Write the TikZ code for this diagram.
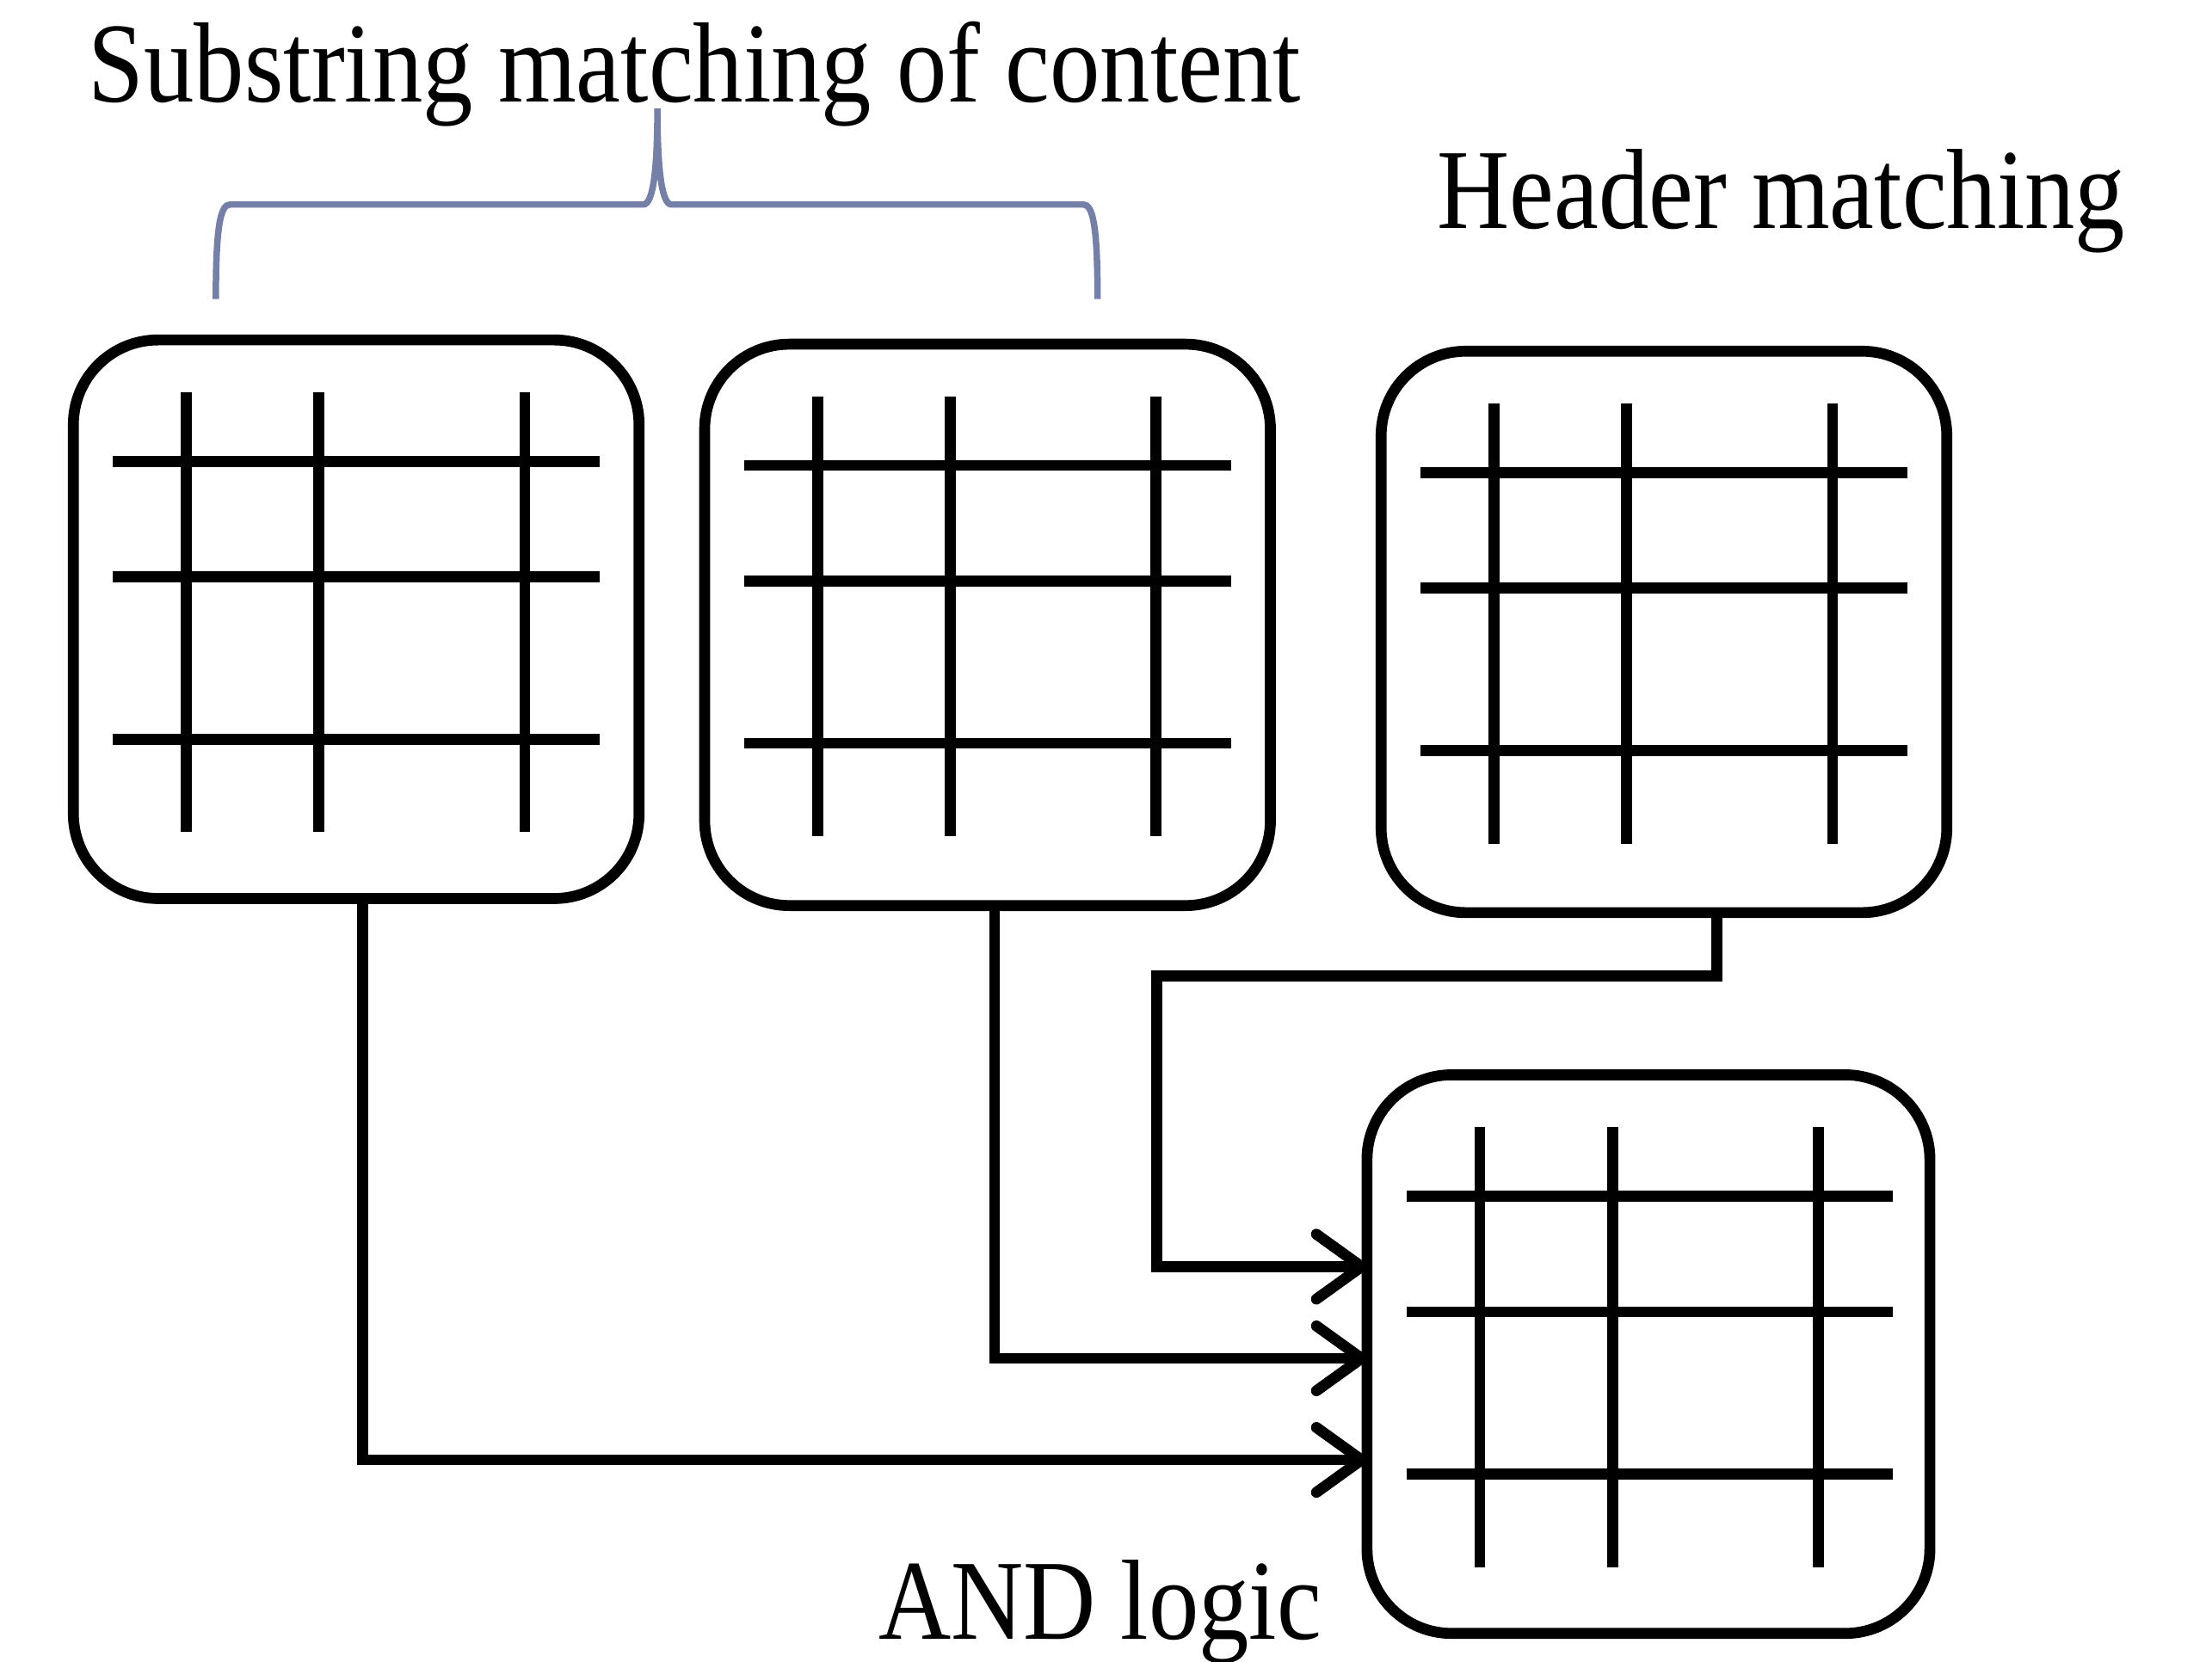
\documentclass[tikz,border=0pt]{standalone}
\usepackage{fontspec}
\setmainfont{Liberation Serif}
\newfontfamily\labelfont{Liberation Serif}[FakeStretch=0.88]
\usepackage{xcolor}
\usepackage{tikz}
\usetikzlibrary{arrows.meta, positioning, calc}

\definecolor{bracegray}{RGB}{116,128,168}

\tikzset{
  tablebox/.style={draw, line width=2.2pt, rounded corners=0.6cm, minimum width=4.01cm, minimum height=3.96cm, outer sep=0pt},
  gridline/.style={line width=2.2pt},
  link/.style={line width=2.2pt, -{Straight Barb[length=0.32cm, width=0.46cm, round]}},
  caption/.style={font=\labelfont\fontsize{23}{27}\selectfont, inner sep=0pt, anchor=base west},
}

% three rows and three columns inside a table box
\newcommand{\tablegrid}[1]{%
  \foreach \y in {0.86,1.68,2.83}
    \draw[gridline] ($(#1.north west)+(0.28,-\y)$) -- ++(3.45,0);
  \foreach \x in {0.80,1.74,3.20}
    \draw[gridline] ($(#1.north west)+(\x,-0.37)$) -- ++(0,-3.12);
}

\begin{document}
\begin{tikzpicture}
      \useasboundingbox (0,0) rectangle (15.68,-11.78);

      \node[caption] (substr) at (0.62,-0.72) {Substring matching of content};
      \node[caption] (header) at (10.18,-1.62) {Header matching};
      \node[caption] (andlogic) at (6.22,-11.62) {AND logic};

      % brace over the two content tables
      \draw[bracegray, line width=1.3pt] (1.53,-2.12) .. controls (1.53,-1.62) and (1.56,-1.45) .. (1.63,-1.45)
        -- (4.56,-1.45) .. controls (4.63,-1.45) and (4.66,-1.2) .. (4.66,-0.77)
        .. controls (4.66,-1.2) and (4.69,-1.45) .. (4.76,-1.45)
        -- (7.68,-1.45) .. controls (7.75,-1.45) and (7.78,-1.62) .. (7.78,-2.12);

      \node[tablebox] (t1) at (2.525,-4.39) {};
      \node[tablebox, minimum height=3.98cm] (t2) at (7.00,-4.43) {};
      \node[tablebox, minimum height=3.98cm] (t3) at (11.795,-4.48) {};
      \node[tablebox, minimum width=3.99cm] (t4) at (11.685,-9.60) {};

      \tablegrid{t1}
      \tablegrid{t2}
      \tablegrid{t3}
      \tablegrid{t4}

      \coordinate (bend) at (8.20,-6.92);

      \draw[link] ([xshift=0.045cm]t1.south) |- ([yshift=-0.75cm]t4.west);
      \draw[link] ([xshift=0.05cm]t2.south) |- ([yshift=-0.03cm]t4.west);
      \draw[link] ([xshift=0.375cm]t3.south) |- (bend) |- ([yshift=0.62cm]t4.west);
    \end{tikzpicture}
\end{document}
